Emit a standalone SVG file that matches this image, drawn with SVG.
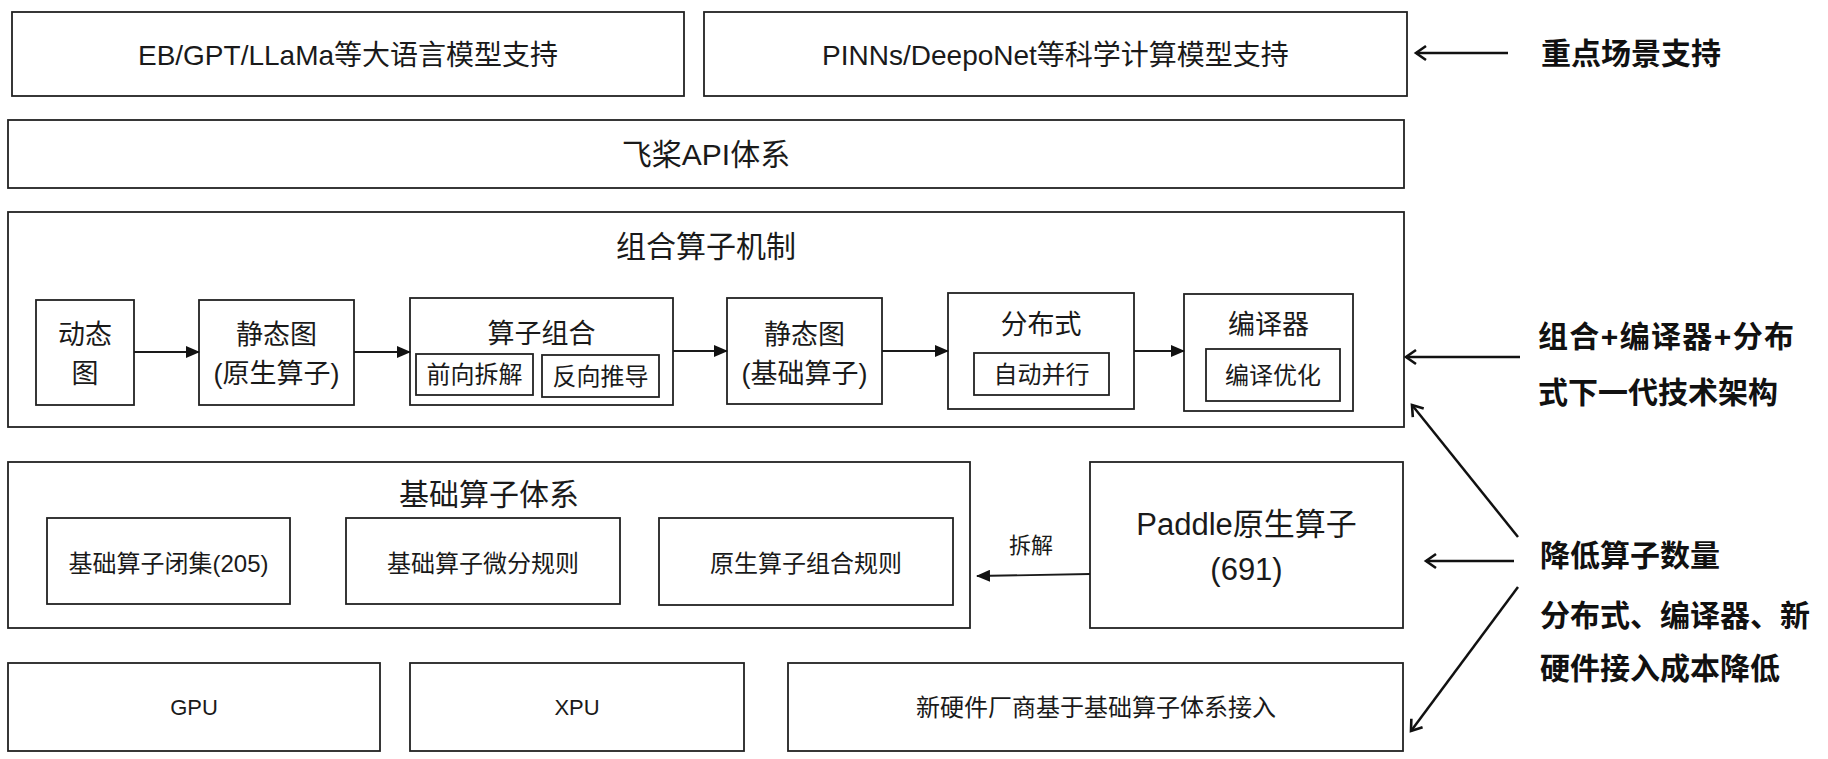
<svg xmlns="http://www.w3.org/2000/svg" width="1828" height="759" viewBox="0 0 1828 759">
<style>
  .box { fill: #ffffff; stroke: #222222; stroke-width: 1.8; }
  .t { font-family: "Liberation Sans", "Noto Sans CJK SC", sans-serif; fill: #1a1a1a; text-anchor: middle; }
  .t28 { font-size: 28px; }
  .t30 { font-size: 30px; }
  .t27 { font-size: 27px; }
  .t24 { font-size: 24px; }
  .t22 { font-size: 22px; }
  .note { font-family: "Liberation Sans", "Noto Sans CJK SC", sans-serif; font-size: 30px; font-weight: 700; fill: #111111; }
  .conn { stroke: #1a1a1a; stroke-width: 1.8; fill: none; }
  .conn2 { stroke: #111111; stroke-width: 2.5; fill: none; }
</style>
<defs>
  <marker id="tri" markerUnits="userSpaceOnUse" viewBox="0 0 14 12" markerWidth="14" markerHeight="12" refX="13" refY="6" orient="auto">
    <path d="M0,0 L14,6 L0,12 z" fill="#111111"/>
  </marker>
  <marker id="open" markerUnits="userSpaceOnUse" viewBox="0 0 16 18" markerWidth="16" markerHeight="18" refX="14" refY="9" orient="auto" overflow="visible">
    <polyline points="4,2 14,9 4,16" fill="none" stroke="#111111" stroke-width="2.6"/>
  </marker>
</defs>
<rect width="1828" height="759" fill="#ffffff"/>

<g id="llm-support">
  <rect class="box" x="12" y="12" width="672" height="84"/>
  <text class="t t28" x="348" y="65">EB/GPT/LLaMa等大语言模型支持</text>
</g>
<g id="sci-support">
  <rect class="box" x="704" y="12" width="703" height="84"/>
  <text class="t t28" x="1055.5" y="65">PINNs/DeepoNet等科学计算模型支持</text>
</g>
<g id="api">
  <rect class="box" x="8" y="120" width="1396" height="68"/>
  <text class="t t30" x="706" y="165">飞桨API体系</text>
</g>

<g id="composite-mechanism">
  <rect class="box" x="8" y="212" width="1396" height="215"/>
  <text class="t t30" x="706" y="257">组合算子机制</text>
</g>
<g id="dygraph">
  <rect class="box" x="36" y="300" width="98" height="105"/>
  <text class="t t27" x="85" y="344">动态</text>
  <text class="t t27" x="85" y="383">图</text>
</g>
<g id="static-native">
  <rect class="box" x="199" y="300" width="155" height="105"/>
  <text class="t t27" x="276.5" y="344">静态图</text>
  <text class="t t27" x="276.5" y="383">(原生算子)</text>
</g>
<g id="op-compose">
  <rect class="box" x="410" y="298" width="263" height="107"/>
  <text class="t t27" x="541.5" y="343">算子组合</text>
  <rect class="box" x="416" y="354" width="117" height="41"/>
  <text class="t t24" x="474.5" y="383">前向拆解</text>
  <rect class="box" x="542" y="355" width="117" height="42"/>
  <text class="t t24" x="600.5" y="385">反向推导</text>
</g>
<g id="static-basic">
  <rect class="box" x="727" y="298" width="155" height="106"/>
  <text class="t t27" x="804.5" y="344">静态图</text>
  <text class="t t27" x="804.5" y="383">(基础算子)</text>
</g>
<g id="distributed">
  <rect class="box" x="948" y="293" width="186" height="116"/>
  <text class="t t27" x="1041" y="334">分布式</text>
  <rect class="box" x="974" y="353" width="135" height="42"/>
  <text class="t t24" x="1041.5" y="383">自动并行</text>
</g>
<g id="compiler">
  <rect class="box" x="1184" y="294" width="169" height="117"/>
  <text class="t t27" x="1268.5" y="334">编译器</text>
  <rect class="box" x="1206" y="349" width="134" height="52"/>
  <text class="t t24" x="1273" y="384">编译优化</text>
</g>

<g id="basic-op-system">
  <rect class="box" x="8" y="462" width="962" height="166"/>
  <text class="t t30" x="489" y="505">基础算子体系</text>
  <rect class="box" x="47" y="518" width="243" height="86"/>
  <text class="t t24" x="168.5" y="572">基础算子闭集(205)</text>
  <rect class="box" x="346" y="518" width="274" height="86"/>
  <text class="t t24" x="483" y="572">基础算子微分规则</text>
  <rect class="box" x="659" y="518" width="294" height="87"/>
  <text class="t t24" x="806" y="572">原生算子组合规则</text>
</g>
<g id="paddle-native">
  <rect class="box" x="1090" y="462" width="313" height="166"/>
  <text class="t" style="font-size:31px" x="1246.5" y="535">Paddle原生算子</text>
  <text class="t" style="font-size:31px" x="1246.5" y="580">(691)</text>
</g>

<g id="gpu">
  <rect class="box" x="8" y="663" width="372" height="88"/>
  <text class="t t22" x="194" y="715">GPU</text>
</g>
<g id="xpu">
  <rect class="box" x="410" y="663" width="334" height="88"/>
  <text class="t t22" x="577" y="715">XPU</text>
</g>
<g id="new-hw">
  <rect class="box" x="788" y="663" width="615" height="88"/>
  <text class="t t24" x="1096" y="716">新硬件厂商基于基础算子体系接入</text>
</g>

<g id="notes">
  <text class="note" x="1541" y="64">重点场景支持</text>
  <text class="note" x="1538" y="347" textLength="256" lengthAdjust="spacing">组合+编译器+分布</text>
  <text class="note" x="1538" y="403">式下一代技术架构</text>
  <text class="note" x="1540" y="566">降低算子数量</text>
  <text class="note" x="1540" y="626">分布式、编译器、新</text>
  <text class="note" x="1540" y="679">硬件接入成本降低</text>
</g>

<g id="connectors">
  <line class="conn" x1="134" y1="352" x2="199" y2="352" marker-end="url(#tri)"/>
  <line class="conn" x1="354" y1="352" x2="410" y2="352" marker-end="url(#tri)"/>
  <line class="conn" x1="673" y1="351" x2="727" y2="351" marker-end="url(#tri)"/>
  <line class="conn" x1="882" y1="351" x2="948" y2="351" marker-end="url(#tri)"/>
  <line class="conn" x1="1134" y1="351" x2="1184" y2="351" marker-end="url(#tri)"/>
  <line class="conn" x1="1090" y1="574" x2="977" y2="576" marker-end="url(#tri)"/>
  <text class="t t22" x="1031" y="553">拆解</text>
  <line class="conn2" x1="1508" y1="53" x2="1416" y2="53" marker-end="url(#open)"/>
  <line class="conn2" x1="1520" y1="357" x2="1406" y2="357" marker-end="url(#open)"/>
  <line class="conn2" x1="1518" y1="537" x2="1412" y2="405" marker-end="url(#open)"/>
  <line class="conn2" x1="1514" y1="561" x2="1426" y2="561" marker-end="url(#open)"/>
  <line class="conn2" x1="1518" y1="587" x2="1411" y2="731" marker-end="url(#open)"/>
</g>
</svg>
